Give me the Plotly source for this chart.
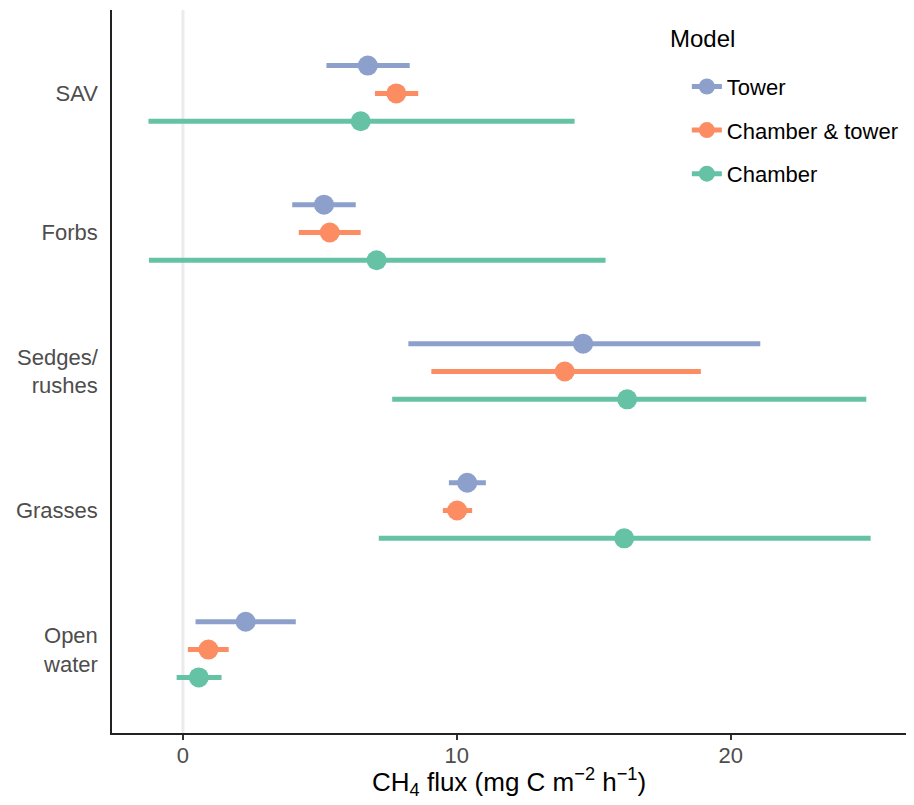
import plotly.graph_objects as go

# ---- data ----
categories = ["SAV", "Forbs", "Sedges/<br>rushes", "Grasses", "Open<br>water"]
models = ["Tower", "Chamber & tower", "Chamber"]
colors = {"Tower": "#8DA0CB", "Chamber & tower": "#FC8D62", "Chamber": "#66C2A5"}

tower_est = [6.75, 5.15, 14.61, 10.38, 2.29]
tower_lo = [5.24, 3.99, 8.23, 9.71, 0.46]
tower_hi = [8.28, 6.31, 21.08, 11.06, 4.12]

both_est = [7.79, 5.36, 13.94, 10.01, 0.93]
both_lo = [7.01, 4.23, 9.07, 9.49, 0.18]
both_hi = [8.59, 6.49, 18.91, 10.56, 1.67]

chamber_est = [6.49, 7.07, 16.22, 16.11, 0.58]
chamber_lo = [-1.26, -1.24, 7.64, 7.15, -0.23]
chamber_hi = [14.30, 15.43, 24.95, 25.11, 1.41]

series = {
    "Tower": (tower_est, tower_lo, tower_hi),
    "Chamber & tower": (both_est, both_lo, both_hi),
    "Chamber": (chamber_est, chamber_lo, chamber_hi),
}
dodge = {"Tower": 0.2, "Chamber & tower": 0.0, "Chamber": -0.2}

n = len(categories)
base_pos = [n - i for i in range(n)]

fig = go.Figure()

# reference line at zero
fig.add_shape(type="line", xref="x", yref="paper", x0=0, x1=0, y0=0, y1=1,
              line=dict(color="#EBEBEB", width=3), layer="below")

for m in models:
    est, lo, hi = series[m]
    ys = [p + dodge[m] for p in base_pos]
    lx, ly = [], []
    for a, b, y in zip(lo, hi, ys):
        lx += [a, b, None]
        ly += [y, y, None]
    fig.add_trace(go.Scatter(x=lx, y=ly, mode="lines", line=dict(color=colors[m], width=5),
                             showlegend=False, legendgroup=m, hoverinfo="skip"))
    px, py = [], []
    for e, y in zip(est, ys):
        px += [e, None]
        py += [y, None]
    fig.add_trace(go.Scatter(x=px, y=py, mode="lines+markers", name=m, legendgroup=m,
                             line=dict(color=colors[m], width=5),
                             marker=dict(color=colors[m], size=20)))

# legend title drawn as a text annotation so the gap to the items matches
fig.add_annotation(text="Model", xref="paper", yref="paper", x=0.70, y=0.96,
                   xanchor="left", yanchor="middle", showarrow=False,
                   font=dict(size=24, color="black"))

# x-axis title as annotation (placed closer to the tick labels)
fig.add_annotation(text="CH<sub>4</sub> flux (mg C m<sup>−2</sup> h<sup>−1</sup>)",
                   xref="paper", yref="paper", x=0.5, y=0, yshift=-49,
                   xanchor="center", yanchor="middle", showarrow=False,
                   font=dict(size=26, color="black"))

font_family = "Liberation Sans, Arial, sans-serif"
fig.update_layout(
    width=914, height=805,
    margin=dict(l=112, r=8, t=10, b=72),
    paper_bgcolor="white", plot_bgcolor="white",
    font=dict(family=font_family, color="black"),
    legend=dict(
        font=dict(size=22, color="black"),
        x=0.724, xanchor="left", y=0.923, yanchor="top",
        bgcolor="rgba(0,0,0,0)", tracegroupgap=12, traceorder="grouped",
    ),
    xaxis=dict(
        range=[-2.59, 26.4], tickvals=[0, 10, 20], ticktext=["0", "10", "20"],
        showgrid=False, zeroline=False, showline=True, linecolor="#222222", linewidth=1.5,
        ticks="outside", ticklen=5, tickwidth=1.5, tickcolor="#333333",
        tickfont=dict(size=22, color="#4D4D4D"), ticklabelstandoff=-3,
    ),
    yaxis=dict(
        range=[0.4, 5.6], tickvals=base_pos, ticktext=categories,
        showgrid=False, zeroline=False, showline=True, linecolor="#222222", linewidth=1.5,
        ticks="", ticklabelstandoff=8,
        tickfont=dict(size=22, color="#4D4D4D"),
    ),
)

fig.write_html("out.html")
